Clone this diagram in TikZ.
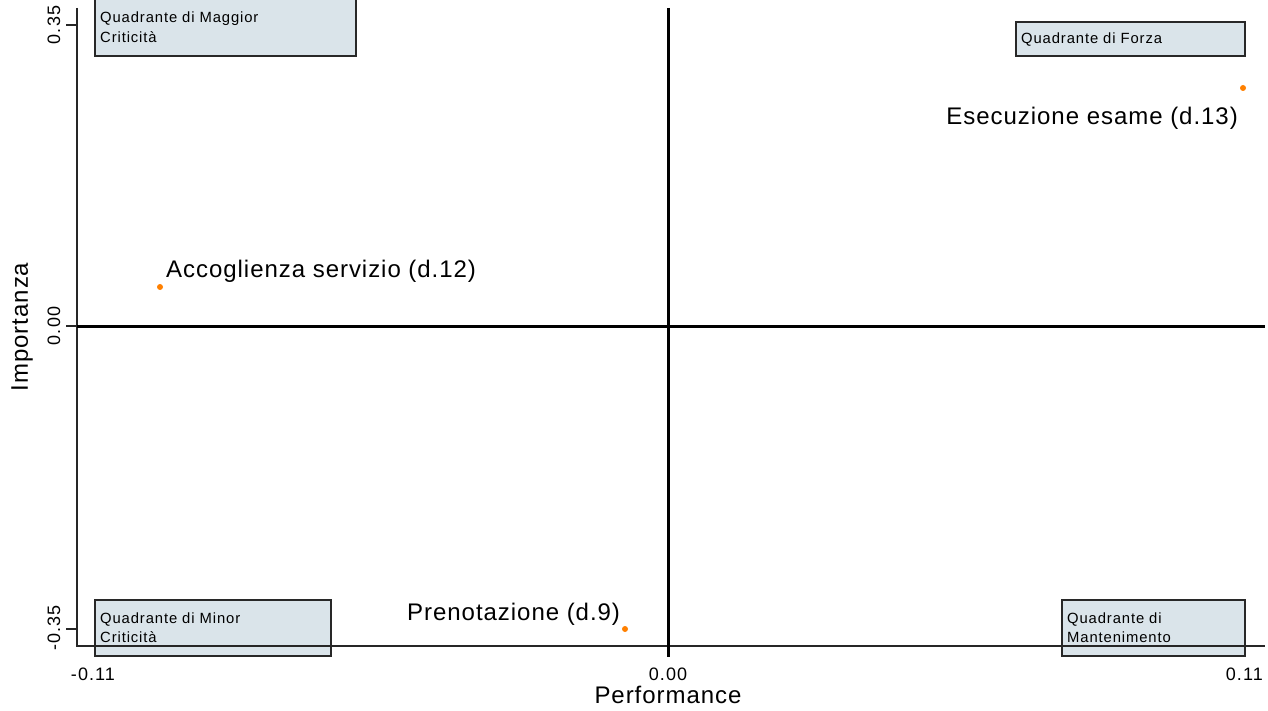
\documentclass[tikz,border=0pt]{standalone}
\usepackage{fontspec}
\setmainfont{Liberation Sans}
\newfontfamily\boxfnt[LetterSpace=6]{Liberation Sans}
\newfontfamily\tickfnt[LetterSpace=6]{Liberation Sans}
\newfontfamily\lblfnt[LetterSpace=4]{Liberation Sans}
\definecolor{boxfill}{RGB}{218,228,234}
\definecolor{dotorange}{RGB}{255,128,0}
\definecolor{boxline}{RGB}{40,40,40}
\begin{document}
\begin{tikzpicture}[x=1pt,y=-1pt,
  quadbox/.style={draw=boxline, line width=1.5pt, fill=boxfill, anchor=north west, inner sep=0pt, outer sep=0pt},
  quadtext/.style={anchor=base west, inner sep=0pt, font=\boxfnt\fontsize{14.8}{17}\selectfont},
  ptlabel/.style={inner sep=0pt, font=\lblfnt\fontsize{24}{28}\selectfont},
  ticklabel/.style={inner sep=0pt, font=\tickfnt\fontsize{18}{21}\selectfont},
  axtitle/.style={inner sep=0pt, font=\lblfnt\fontsize{24}{28}\selectfont},
  dot/.style={circle, fill=dotorange, inner sep=0pt, minimum size=6pt},
  axisline/.style={line width=2pt, black!85},
  zeroline/.style={line width=3pt, black},
  tickline/.style={line width=1.5pt, black!85}]
\useasboundingbox (0,0) rectangle (1268,711);
\fill[white] (0,0) rectangle (1268,711);

% quadrant boxes
\node[quadbox, minimum width=261pt, minimum height=66pt] (boxTL) at (95,-10) {};
\node[quadbox, minimum width=229pt, minimum height=34pt] (boxTR) at (1016,22) {};
\node[quadbox, minimum width=236pt, minimum height=56pt] (boxBL) at (95,600) {};
\node[quadbox, minimum width=183pt, minimum height=56pt] (boxBR) at (1062,600) {};

\node[quadtext] (tTL1) at (100,23) {Quadrante di Maggior};
\node[quadtext] (tTL2) at (100,43) {Criticità};
\node[quadtext] (tTR1) at (1021,44) {Quadrante di Forza};
\node[quadtext] (tBL1) at (100,623) {Quadrante di Minor};
\node[quadtext] (tBL2) at (100,642) {Criticità};
\node[quadtext] (tBR1) at (1067,623) {Quadrante di};
\node[quadtext] (tBR2) at (1067,642) {Mantenimento};

% axes
\coordinate (yaxTop) at (77,8);
\coordinate (origin) at (77,646);
\coordinate (xaxEnd) at (1265,646);
\draw[axisline] (yaxTop) -- (origin) -- (xaxEnd);
\coordinate (vzTop) at (668,8);
\coordinate (vzBot) at (668,657);
\draw[zeroline] (vzTop) -- (vzBot);
\coordinate (hzL) at (77,326);
\coordinate (hzR) at (1265,326);
\draw[zeroline] (hzL) -- (hzR);

% y ticks
\coordinate (yt1a) at (66,25);  \coordinate (yt1b) at (77,25);
\coordinate (yt2a) at (66,326); \coordinate (yt2b) at (77,326);
\coordinate (yt3a) at (66,629); \coordinate (yt3b) at (77,629);
\draw[tickline] (yt1a) -- (yt1b);
\draw[tickline] (yt2a) -- (yt2b);
\draw[tickline] (yt3a) -- (yt3b);

% tick labels
\node[ticklabel, rotate=90] (yl1) at (54,25) {0.35};
\node[ticklabel, rotate=90] (yl2) at (54,326) {0.00};
\node[ticklabel, rotate=90] (yl3) at (54,628) {-0.35};
\node[ticklabel, anchor=base] (xl1) at (93,680) {-0.11};
\node[ticklabel, anchor=base] (xl2) at (668,680) {0.00};
\node[ticklabel, anchor=base east] (xl3) at (1263,680) {0.11};

% axis titles
\node[axtitle, rotate=90] (ytitle) at (22,327) {Importanza};
\node[axtitle, anchor=base] (xtitle) at (668,703) {Performance};

% points
\node[dot] (p13) at (1243,88) {};
\node[dot] (p12) at (160,287) {};
\node[dot] (p9) at (625,629) {};
\node[ptlabel, anchor=base east] (l13) at (1238,125) {Esecuzione esame (d.13)};
\node[ptlabel, anchor=base west] (l12) at (166,277) {Accoglienza servizio (d.12)};
\node[ptlabel, anchor=base west] (l9) at (407,620) {Prenotazione (d.9)};
\end{tikzpicture}
\end{document}
